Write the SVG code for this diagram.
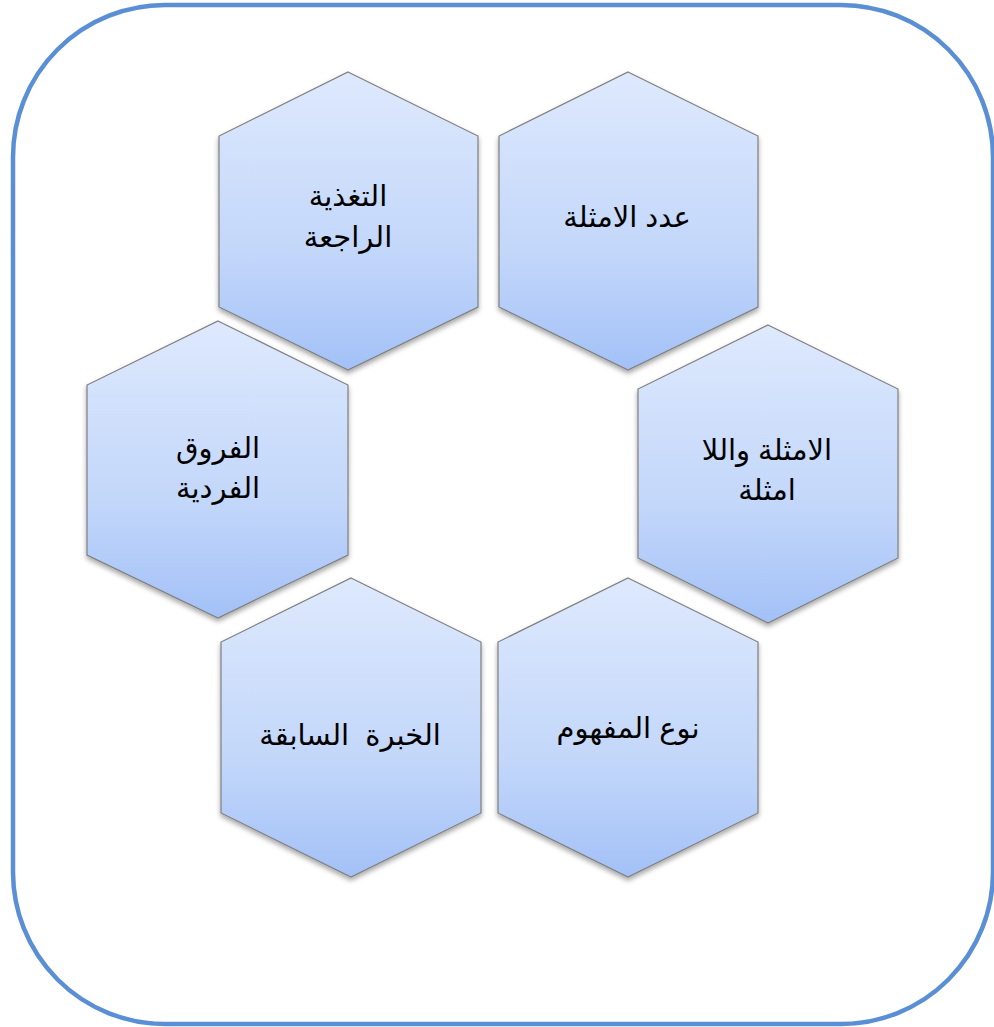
<svg xmlns="http://www.w3.org/2000/svg" width="994" height="1027" viewBox="0 0 994 1027">
  <style>
    .hex { fill: url(#hexFill); stroke: #7f7f7f; stroke-width: 1.2; filter: url(#shadow); }
    .label { font-family: "Liberation Sans", "DejaVu Sans", sans-serif; font-size: 29px; fill: #000; text-anchor: middle; direction: rtl; white-space: pre; }
    .frame { fill: #ffffff; stroke: #5a8fd6; stroke-width: 4.5; }
  </style>
  <defs>
    <linearGradient id="hexFill" x1="0" y1="0" x2="0" y2="1">
      <stop offset="0" stop-color="#dee9fd"/>
      <stop offset="0.6" stop-color="#c3d7fa"/>
      <stop offset="1" stop-color="#a3c1f7"/>
    </linearGradient>
    <filter id="shadow" x="-10%" y="-10%" width="120%" height="125%">
      <feDropShadow dx="0" dy="3" stdDeviation="2.5" flood-color="#000" flood-opacity="0.35"/>
    </filter>
  </defs>

  <rect width="994" height="1027" fill="#ffffff"/>
  <!-- outer rounded frame -->
  <rect class="frame" x="13" y="5" width="980" height="1019" rx="152" ry="152"/>

  <!-- hexagon nodes -->
  <g id="node-feedback">
    <polygon class="hex" points="348,72 478,136 478,307 348,370 219,307 219,136"/>
    <text class="label" x="348" y="206">التغذية</text>
    <text class="label" x="348" y="247">الراجعة</text>
  </g>
  <g id="node-count">
    <polygon class="hex" points="628,72 758,136 758,307 628,370 499,307 499,136"/>
    <text class="label" x="627" y="227">عدد الامثلة</text>
  </g>
  <g id="node-differences">
    <polygon class="hex" points="218,321 348,385 348,555 218,618 87,555 87,385"/>
    <text class="label" x="218" y="458">الفروق</text>
    <text class="label" x="218" y="498">الفردية</text>
  </g>
  <g id="node-examples">
    <polygon class="hex" points="768,325 898,389 898,558 768,623 638,558 638,389"/>
    <text class="label" x="767" y="460">الامثلة واللا</text>
    <text class="label" x="767" y="500">امثلة</text>
  </g>
  <g id="node-experience">
    <polygon class="hex" points="351,578 481,642 481,813 351,877 221,813 221,642"/>
    <text class="label" x="350" y="745" xml:space="preserve">الخبرة  السابقة</text>
  </g>
  <g id="node-concept">
    <polygon class="hex" points="628,578 758,642 758,813 628,877 498,813 498,642"/>
    <text class="label" x="628" y="738">نوع المفهوم</text>
  </g>

  <g id="connectors"></g>
</svg>
